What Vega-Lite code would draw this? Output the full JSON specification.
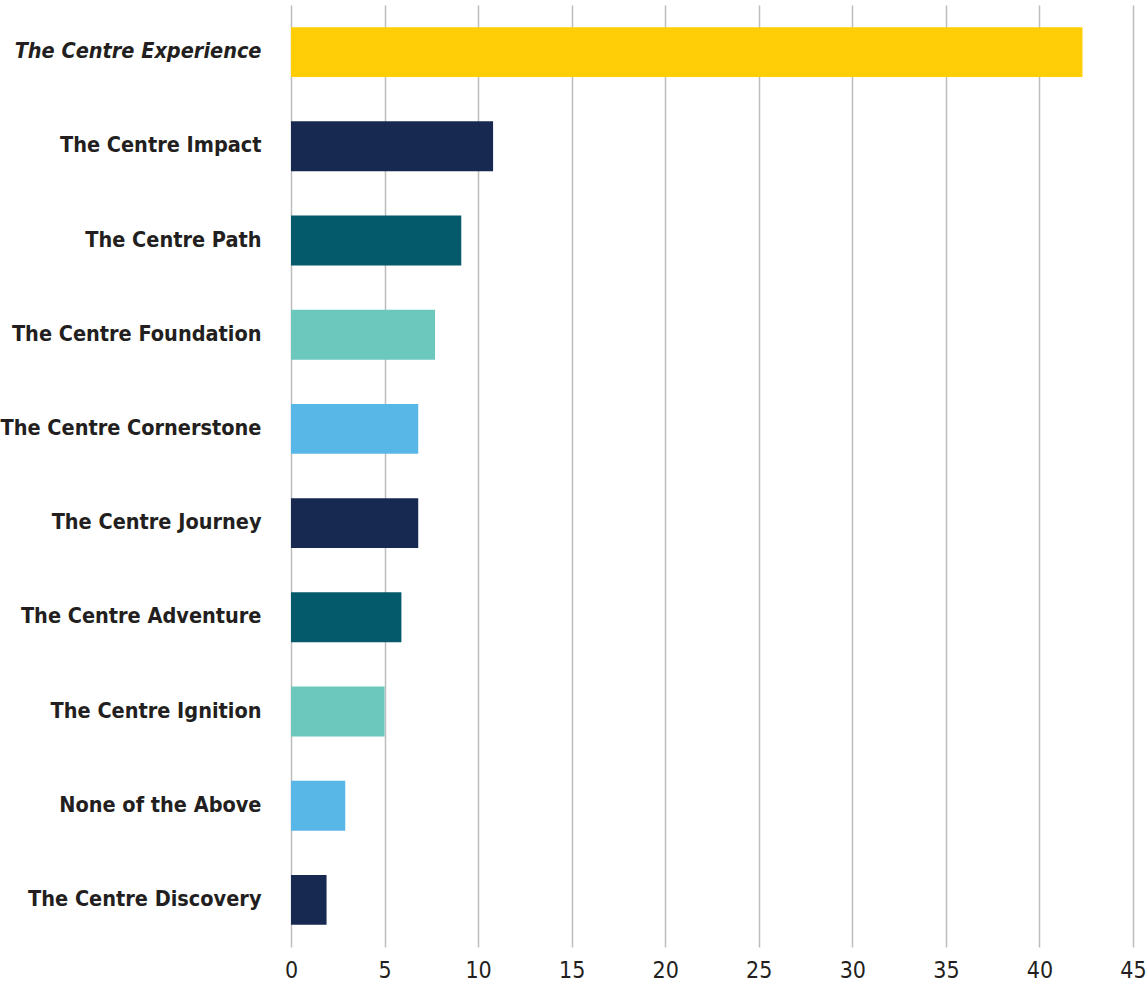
{
  "$schema": "https://vega.github.io/schema/vega-lite/v6.json",
  "width": 842,
  "height": 942,
  "autosize": {"type": "none"},
  "padding": {"left": 291, "top": 5, "right": 15, "bottom": 38},
  "background": "white",
  "config": {"view": {"stroke": null}},
  "data": {
    "values": [
      {"label": "The Centre Experience", "value": 42.3},
      {"label": "The Centre Impact", "value": 10.8},
      {"label": "The Centre Path", "value": 9.1},
      {"label": "The Centre Foundation", "value": 7.7},
      {"label": "The Centre Cornerstone", "value": 6.8},
      {"label": "The Centre Journey", "value": 6.8},
      {"label": "The Centre Adventure", "value": 5.9},
      {"label": "The Centre Ignition", "value": 5.0},
      {"label": "None of the Above", "value": 2.9},
      {"label": "The Centre Discovery", "value": 1.9}
    ]
  },
  "mark": {"type": "bar"},
  "encoding": {
    "y": {
      "field": "label",
      "type": "nominal",
      "sort": null,
      "scale": {"paddingInner": 0.47, "paddingOuter": 0.235},
      "axis": {
        "title": null,
        "domain": false,
        "ticks": false,
        "labelPadding": 30,
        "labelFont": "DejaVu Sans Condensed",
        "labelFontWeight": "bold",
        "labelFontSize": 21.5,
        "labelColor": "#231F20",
        "labelLimit": 400,
        "labelFontStyle": {"condition": {"test": "datum.value === 'The Centre Experience'", "value": "italic"}, "value": "normal"}
      }
    },
    "x": {
      "field": "value",
      "type": "quantitative",
      "scale": {"domain": [0, 45], "nice": false},
      "axis": {
        "title": null,
        "values": [0, 5, 10, 15, 20, 25, 30, 35, 40, 45],
        "domain": false,
        "ticks": false,
        "grid": true,
        "gridColor": "#BDBDBD",
        "gridWidth": 1.5,
        "labelFont": "DejaVu Sans Condensed",
        "labelFontSize": 23,
        "labelColor": "#231F20",
        "labelPadding": 12,
        "labelFlush": false
      }
    },
    "color": {
      "field": "label",
      "type": "nominal",
      "legend": null,
      "scale": {
        "domain": ["The Centre Experience", "The Centre Impact", "The Centre Path", "The Centre Foundation", "The Centre Cornerstone", "The Centre Journey", "The Centre Adventure", "The Centre Ignition", "None of the Above", "The Centre Discovery"],
        "range": ["#FFCE07", "#172851", "#045A6B", "#6CC7BD", "#58B7E7", "#172851", "#045A6B", "#6CC7BD", "#58B7E7", "#172851"]
      }
    }
  }
}
